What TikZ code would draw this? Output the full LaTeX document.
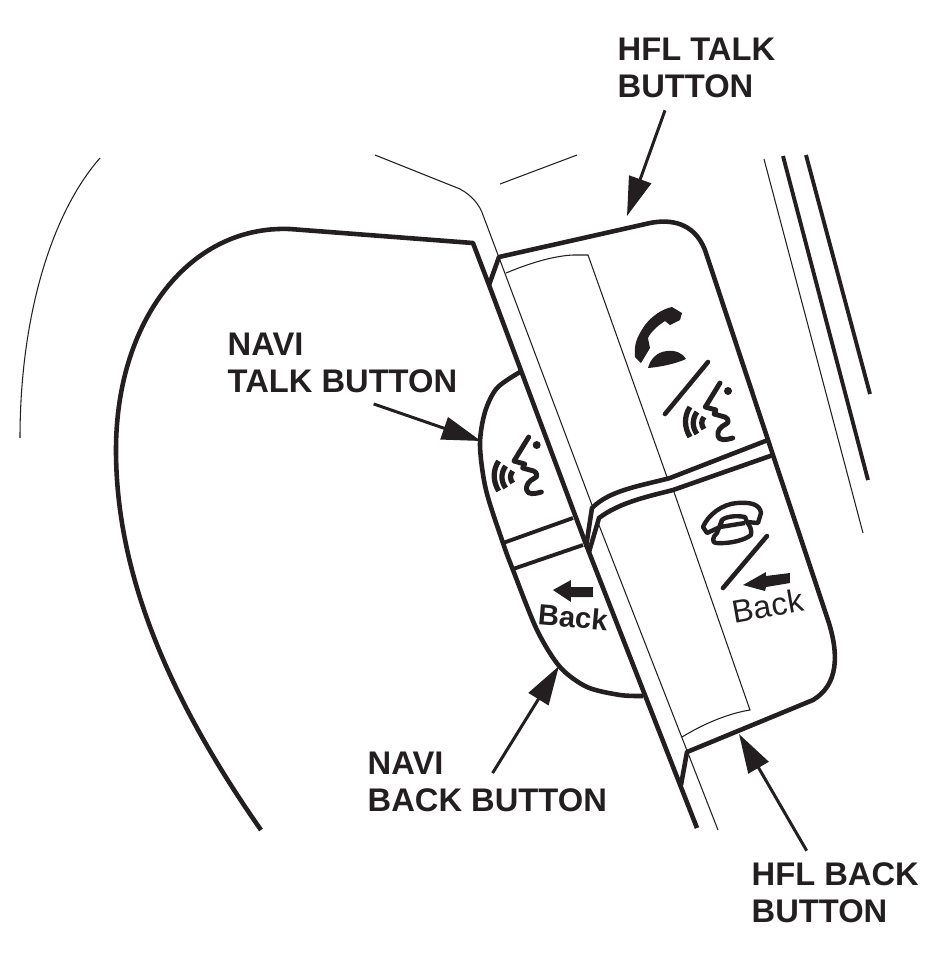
\documentclass[tikz,border=0pt]{standalone}
\usepackage{fontspec}
\usepackage{tikz}
\usetikzlibrary{arrows.meta}
\setmainfont{Liberation Sans}
\definecolor{inkBlack}{RGB}{35, 31, 32}
\tikzset{
  heavyline/.style={inkBlack, line width=1.3pt, line join=round},
  midline/.style={inkBlack, line width=1.1pt, line join=round},
  hairline/.style={inkBlack, line width=0.3pt},
  calllabel/.style={inkBlack, font=\fontsize{9.3}{10.5}\selectfont\bfseries, align=left, inner sep=0pt, anchor=north west},
  leader/.style={inkBlack, line width=0.85pt, -{Triangle[length=3.9mm, width=2.3mm]}},
  talkicon/.pic={
    \fill[inkBlack] (0,0) circle (4);
    \draw[heavyline, line width=1.4pt, line cap=round] (-8,-8) -- (-22.7,16) -- (-12,19) -- (-14,23) -- (-3,26) .. controls (1,28) and (1,32) .. (-2,33) .. controls (-8,36) and (-11,40) .. (-10,45) .. controls (-9,50) and (-2,49) .. (4.7,47);
    \draw[heavyline, line width=1.5pt] (-38,16) .. controls (-44,25) and (-44,36) .. (-38,46);
    \draw[heavyline, line width=1.5pt] (-31,21) .. controls (-36,28) and (-36,36) .. (-31,43);
    \draw[heavyline, line width=1.5pt] (-24,26) .. controls (-27,30) and (-27,34) .. (-24,38);
  }
}
\begin{document}
\begin{tikzpicture}[x=0.01cm, y=-0.01cm]
  \useasboundingbox (0,0) rectangle (936,953);
  % surroundings
  \draw[hairline] (100,158) .. controls (50,215) and (20,320) .. (20,438);
  \draw[hairline] (375,155) -- (460,189) .. controls (473,196) and (480,206) .. (483,215) -- (592,505);
  \draw[hairline] (500,184) -- (577,155);
  \draw[hairline] (764,159) -- (863,533);
  \draw[midline] (783,156) -- (868,480);
  \draw[midline] (806,155) -- (870,394);
  \draw[heavyline] (697,828) -- (587,547) -- (489,285) -- (473,243) -- (290,229) .. controls (190,225) and (116,320) .. (116,450) .. controls (116,575) and (170,700) .. (261,830);
  % hfl switch
  \draw[heavyline] (489,285) -- (499,257) -- (650,223) .. controls (670,219) and (694,222) .. (705,250) -- (773,455) -- (827,617) .. controls (840,655) and (838,685) .. (813,700) -- (687,752) -- (681,785);
  \draw[heavyline] (768,440) -- (670,478) .. controls (640,486) and (610,490) .. (592,508) -- (586,547);
  \draw[heavyline] (773,455) -- (673,490) .. controls (650,496) and (620,502) .. (599,518) -- (589,552);
  \draw[hairline] (506,273) .. controls (530,263) and (553,256) .. (573,255) -- (588,255) -- (667,477);
  \draw[hairline] (674,492) -- (750,710) .. controls (725,714) and (700,726) .. (682,737);
  \draw[hairline] (597,520) -- (718,830);
  % navi switch
  \draw[heavyline] plot[smooth] coordinates {(520,372) (497,388) (485,412) (480,445) (486,490) (503,543) (513,570) (537,630) (560,667) (587,687) (620,695) (643,696)};
  \draw[midline] (503,543) -- (573,518);
  \draw[midline] (513,569) -- (583,545);
  % symbols
  \fill[inkBlack] (672,307) -- (682,313) -- (680,320) -- (670,325) -- (665,321) .. controls (657,326) and (650,333) .. (648,338) -- (650,348) -- (641,363) -- (635,357) .. controls (634,345) and (636,338) .. (645,325) .. controls (652,316) and (662,309) .. (672,307) -- cycle;
  \fill[inkBlack] (648,368) .. controls (650,360) and (656,352) .. (667,351) .. controls (675,350) and (683,353) .. (686,359) .. controls (675,364) and (660,367) .. (648,368) -- cycle;
  \draw[midline, line width=1.3pt, line cap=round] (665,414) -- (708,362);
  \pic at (728,391) {talkicon};
  \pic at (536.7,445) {talkicon};
  \draw[midline, line width=1.25pt] (703,527) .. controls (708,515) and (722,504) .. (737,503) .. controls (750,502) and (760,504) .. (761,513) -- (758,523) -- (747,522) -- (745,517) .. controls (735,515) and (725,517) .. (722,520) -- (720,527) -- (707,533) -- cycle;
  \draw[midline, line width=1.25pt] (722,520) -- (717,533) .. controls (712,537) and (712,543) .. (716,543) .. controls (730,544) and (745,540) .. (751,535) .. controls (752,530) and (750,526) .. (747,522);
  \draw[midline, line width=1.25pt] (720,527) -- (745,523);
  \draw[midline, line width=1.3pt, line cap=round] (723,588) -- (767,536);
  \fill[inkBlack] (743,585) -- (766,572) -- (766,576) -- (790,573) -- (790,583) -- (766,587) -- (765,591) -- cycle;
  \fill[inkBlack] (553,590) -- (571,580) -- (571,587) -- (593,587) -- (593,597) -- (571,597) -- (571,602) -- cycle;
  \node[inkBlack, rotate=-5, inner sep=0pt, font=\fontsize{8.3}{9}\selectfont\bfseries] (naviback) at (573,617) {Back};
  \node[inkBlack, rotate=10, inner sep=0pt, font=\fontsize{9.1}{10}\selectfont] (hflback) at (768,606) {Back};
  % labels
  \node[calllabel] (hfltalklabel) at (617,37) {HFL TALK\\BUTTON};
  \node[calllabel] (navitalklabel) at (227,332) {NAVI\\TALK BUTTON};
  \node[calllabel] (navibacklabel) at (367,751) {NAVI\\BACK BUTTON};
  \node[calllabel] (hflbacklabel) at (751,862) {HFL BACK\\BUTTON};
  \coordinate (hfltalktip) at (627,216);
  \coordinate (navitalktip) at (481,441);
  \coordinate (navibacktip) at (559,666);
  \coordinate (hflbacktip) at (739,734);
  \draw[leader, shorten <=0.13cm] ([xshift=-0.27cm]hfltalklabel.south) -- (hfltalktip);
  \draw[leader, shorten <=0.33cm] (navitalklabel.south) -- (navitalktip);
  \draw[leader, shorten <=0.1cm] (navibacklabel.center) -- (navibacktip);
  \draw[leader, shorten <=0.13cm] ([xshift=-0.22cm]hflbacklabel.north) -- (hflbacktip);
\end{tikzpicture}
\end{document}
